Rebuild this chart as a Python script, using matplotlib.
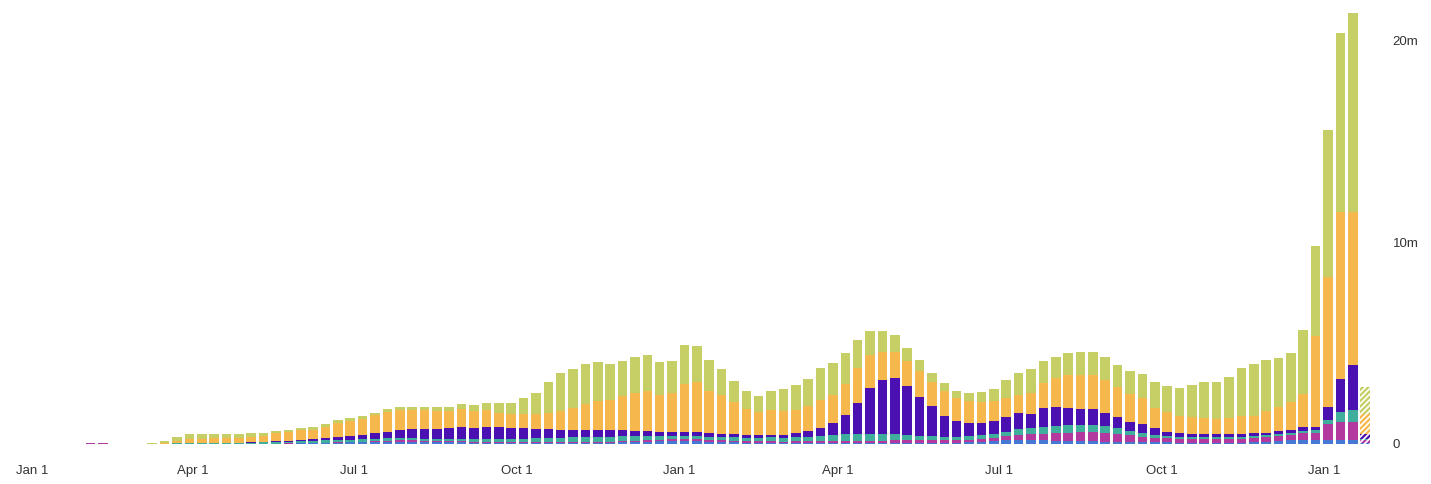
import matplotlib
matplotlib.use("Agg")
import matplotlib.pyplot as plt
import matplotlib.dates as mdates
import numpy as np
import pandas as pd

# Weekly new cases by WHO region, millions
weeks = pd.date_range("2019-12-30", periods=109, freq="7D")

africa = [0, 0, 0, 0, 0, 0, 0, 0, 0, 0, 0.0005, 0.001, 0.002, 0.003, 0.004, 0.005, 0.005, 0.006, 0.008, 0.01,
          0.015, 0.02, 0.03, 0.035, 0.045, 0.06, 0.075, 0.09, 0.11, 0.12, 0.12, 0.12, 0.1, 0.09, 0.08, 0.08,
          0.07, 0.07, 0.06, 0.06, 0.06, 0.06, 0.06, 0.06, 0.07, 0.07, 0.07, 0.07, 0.09, 0.1, 0.11, 0.13,
          0.15, 0.14, 0.13, 0.11, 0.1, 0.08, 0.07, 0.06, 0.06, 0.06, 0.06, 0.06, 0.06, 0.06, 0.06, 0.05,
          0.05, 0.05, 0.05, 0.05, 0.05, 0.05, 0.06, 0.07, 0.09, 0.12, 0.15, 0.19, 0.22, 0.21, 0.19, 0.17,
          0.15, 0.14, 0.13, 0.12, 0.11, 0.1, 0.09, 0.08, 0.08, 0.07, 0.07, 0.07, 0.07, 0.07, 0.07, 0.08,
          0.1, 0.15, 0.2, 0.22, 0.22, 0.2, 0.2, 0.2, 0.04]
western_pacific = [0, 0, 0.0005, 0.003, 0.015, 0.025, 0.03, 0.008, 0.004, 0.004, 0.003, 0.004, 0.008, 0.01,
                   0.01, 0.01, 0.008, 0.006, 0.006, 0.006, 0.006, 0.007, 0.01, 0.01, 0.015, 0.02, 0.025, 0.03,
                   0.04, 0.05, 0.06, 0.06, 0.06, 0.05, 0.05, 0.05, 0.04, 0.04, 0.04, 0.04, 0.04, 0.05, 0.05,
                   0.05, 0.05, 0.05, 0.05, 0.05, 0.06, 0.07, 0.07, 0.08, 0.08, 0.09, 0.1, 0.09, 0.1, 0.09,
                   0.08, 0.07, 0.07, 0.06, 0.07, 0.07, 0.08, 0.09, 0.1, 0.11, 0.12, 0.12, 0.13, 0.14, 0.15,
                   0.15, 0.14, 0.13, 0.13, 0.14, 0.16, 0.2, 0.25, 0.28, 0.33, 0.37, 0.42, 0.45, 0.47, 0.45,
                   0.4, 0.33, 0.28, 0.22, 0.2, 0.18, 0.18, 0.18, 0.18, 0.18, 0.2, 0.22, 0.24, 0.26, 0.26,
                   0.32, 0.33, 0.8, 0.91, 0.91, 0.15]
east_mediterranean = [0, 0, 0, 0, 0, 0, 0, 0, 0.001, 0.006, 0.008, 0.01, 0.02, 0.025, 0.025, 0.03, 0.035, 0.04,
                      0.05, 0.06, 0.07, 0.08, 0.1, 0.1, 0.12, 0.13, 0.12, 0.12, 0.12, 0.12, 0.11, 0.1, 0.1,
                      0.11, 0.11, 0.12, 0.12, 0.13, 0.14, 0.15, 0.16, 0.17, 0.19, 0.2, 0.22, 0.23, 0.24, 0.24,
                      0.24, 0.22, 0.2, 0.18, 0.16, 0.16, 0.17, 0.16, 0.16, 0.17, 0.17, 0.18, 0.2, 0.2, 0.22,
                      0.24, 0.27, 0.3, 0.32, 0.34, 0.35, 0.34, 0.3, 0.25, 0.21, 0.18, 0.17, 0.17, 0.17, 0.18,
                      0.19, 0.22, 0.27, 0.3, 0.34, 0.36, 0.37, 0.36, 0.33, 0.3, 0.27, 0.23, 0.2, 0.17, 0.12,
                      0.11, 0.1, 0.1, 0.1, 0.1, 0.1, 0.1, 0.1, 0.1, 0.1, 0.1, 0.12, 0.19, 0.49, 0.58, 0.08]
south_east_asia = [0, 0, 0, 0, 0, 0, 0, 0, 0, 0, 0.0005, 0.001, 0.002, 0.005, 0.006, 0.008, 0.012, 0.015,
                   0.025, 0.03, 0.045, 0.055, 0.075, 0.09, 0.12, 0.15, 0.18, 0.21, 0.26, 0.33, 0.4, 0.45, 0.48,
                   0.5, 0.54, 0.57, 0.58, 0.6, 0.6, 0.56, 0.52, 0.47, 0.42, 0.37, 0.35, 0.34, 0.33, 0.33, 0.3,
                   0.27, 0.25, 0.22, 0.2, 0.2, 0.19, 0.17, 0.15, 0.14, 0.13, 0.13, 0.14, 0.15, 0.19, 0.26,
                   0.4, 0.58, 0.96, 1.55, 2.28, 2.67, 2.79, 2.46, 1.94, 1.51, 1.04, 0.79, 0.64, 0.59, 0.66,
                   0.75, 0.79, 0.71, 0.92, 0.93, 0.87, 0.78, 0.8, 0.66, 0.58, 0.45, 0.41, 0.34, 0.22, 0.18,
                   0.17, 0.16, 0.15, 0.14, 0.14, 0.13, 0.13, 0.13, 0.14, 0.22, 0.15, 0.66, 1.61, 2.23, 0.25]
americas = [0, 0, 0, 0, 0, 0, 0, 0, 0, 0.0005, 0.005, 0.025, 0.1, 0.2, 0.215, 0.227, 0.24, 0.243, 0.28, 0.314,
            0.394, 0.418, 0.475, 0.475, 0.55, 0.7, 0.75, 0.81, 0.9, 0.98, 1.0, 0.98, 0.95, 0.91, 0.86, 0.91,
            0.83, 0.85, 0.68, 0.66, 0.7, 0.75, 0.82, 0.95, 1.1, 1.3, 1.45, 1.5, 1.7, 1.85, 2.0, 1.8, 1.95,
            2.4, 2.5, 2.1, 1.9, 1.6, 1.3, 1.16, 1.2, 1.15, 1.15, 1.25, 1.36, 1.38, 1.55, 1.7, 1.6, 1.4, 1.3,
            1.2, 1.25, 1.2, 1.2, 1.1, 1.1, 1.07, 0.96, 0.9, 0.9, 1.05, 1.25, 1.45, 1.6, 1.7, 1.7, 1.65, 1.45,
            1.38, 1.3, 1.0, 0.95, 0.85, 0.8, 0.77, 0.76, 0.82, 0.87, 0.86, 1.05, 1.2, 1.4, 1.6, 4.55, 6.45,
            8.29, 7.58, 0.95]
europe = [0, 0, 0, 0, 0, 0, 0, 0, 0.001, 0.01, 0.04, 0.09, 0.2, 0.24, 0.24, 0.22, 0.2, 0.17, 0.16, 0.14, 0.13,
          0.12, 0.12, 0.12, 0.13, 0.13, 0.13, 0.13, 0.13, 0.13, 0.14, 0.15, 0.17, 0.2, 0.22, 0.25, 0.3, 0.35,
          0.5, 0.58, 0.82, 1.05, 1.53, 1.89, 1.94, 1.99, 1.92, 1.78, 1.75, 1.8, 1.8, 1.65, 1.6, 1.9, 1.75,
          1.55, 1.3, 1.07, 0.9, 0.8, 0.97, 1.1, 1.25, 1.35, 1.6, 1.6, 1.52, 1.42, 1.23, 1.05, 0.84, 0.68,
          0.57, 0.45, 0.4, 0.37, 0.39, 0.5, 0.6, 0.92, 1.11, 1.18, 1.07, 1.06, 1.1, 1.11, 1.11, 1.12, 1.12,
          1.14, 1.2, 1.29, 1.31, 1.37, 1.61, 1.78, 1.83, 2.03, 2.38, 2.58, 2.55, 2.45, 2.4, 3.2, 4.43, 7.3,
          8.9, 9.9, 1.37]

regions = [
    ("Africa", africa, "#4679d4"),
    ("Western Pacific", western_pacific, "#b4399f"),
    ("Eastern Mediterranean", east_mediterranean, "#3fae9c"),
    ("South-East Asia", south_east_asia, "#4a10b2"),
    ("Americas", americas, "#f6b84c"),
    ("Europe", europe, "#c5cf65"),
]

plt.rcParams['font.family'] = ['Liberation Sans', 'DejaVu Sans']
plt.rcParams['hatch.linewidth'] = 1.6

fig = plt.figure(figsize=(14.31, 4.84), dpi=100)
ax = fig.add_axes([0, 40 / 484, 1380 / 1431, 444 / 484])

bottom = np.zeros(len(weeks))
for name, values, color in regions:
    vals = np.array(values) * 1e6
    bars = ax.bar(weeks, vals, width=5.4, bottom=bottom, color=color, linewidth=0, label=name)
    # last week is still incomplete: draw it hatched
    last = bars[-1]
    last.set_facecolor("white")
    last.set_edgecolor(color)
    last.set_hatch("//////")
    bottom += vals

start = pd.Timestamp("2020-01-01")
ax.set_xlim(start - pd.Timedelta(days=18.1), start + pd.Timedelta(days=762.4))
ax.set_ylim(0, 22.03e6)

ax.xaxis.set_major_locator(mdates.MonthLocator(bymonth=[1, 4, 7, 10]))
ax.xaxis.set_major_formatter(mdates.DateFormatter("%b 1"))
ax.yaxis.tick_right()
ax.set_yticks([0, 10e6, 20e6])
ax.set_yticklabels(["0", "10m", "20m"])
ax.tick_params(axis="x", length=0, pad=15, labelsize=9.5, labelcolor="#333333")
ax.tick_params(axis="y", length=0, pad=9, labelsize=9.5, labelcolor="#333333")
for s in ax.spines.values():
    s.set_visible(False)

plt.savefig("out.png", dpi=100)
plt.close()
